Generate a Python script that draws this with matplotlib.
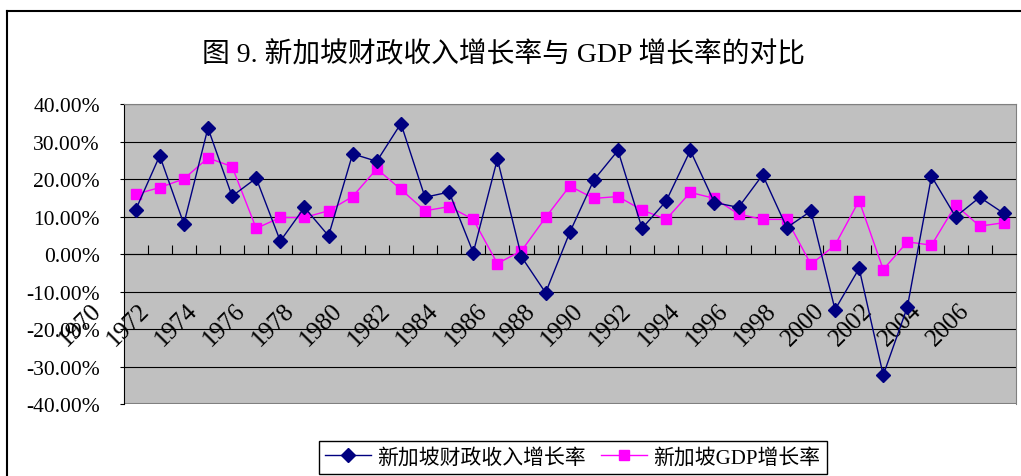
import matplotlib.pyplot as plt
import matplotlib.transforms as mtransforms
from matplotlib.lines import Line2D
from matplotlib.ticker import FuncFormatter, MultipleLocator, FixedLocator

plt.rcParams['font.family'] = ['Liberation Serif', 'Noto Sans CJK SC', 'DejaVu Sans']
plt.rcParams['axes.unicode_minus'] = False

years = list(range(1970, 2007))
# growth rates in percent
revenue_growth = [11.8, 26.3, 8.1, 33.7, 15.5, 20.3, 3.5, 12.5, 4.9, 26.8,
                  24.8, 34.9, 15.2, 16.6, 0.4, 25.4, -0.7, -10.3, 5.8, 19.8,
                  27.7, 6.9, 14.2, 27.7, 13.8, 12.5, 21.2, 7.1, 11.5, -14.8,
                  -3.8, -32.3, -14.1, 20.8, 10.0, 15.2, 10.9]
gdp_growth = [16.0, 17.8, 20.1, 25.7, 23.4, 6.9, 9.8, 9.8, 11.6, 15.4,
              22.8, 17.3, 11.6, 12.7, 9.3, -2.5, 0.9, 9.8, 18.2, 14.9,
              15.4, 11.8, 9.3, 16.5, 14.9, 10.7, 9.3, 9.3, -2.7, 2.4,
              14.3, -4.1, 3.3, 2.4, 13.1, 7.5, 8.4]
label_years = years[::2]

title = '图 9. 新加坡财政收入增长率与 GDP 增长率的对比'
name_revenue = '新加坡财政收入增长率'
name_gdp = '新加坡GDP增长率'

fig = plt.figure(figsize=(10.21, 4.77), dpi=100)
ax = fig.add_axes([0.121, 0.151, 0.874, 0.628])
ax.set_facecolor('#C0C0C0')

x = list(range(len(years)))
ax.plot(x, revenue_growth, color='#000080', lw=1, marker='D', ms=7,
        label=name_revenue, zorder=4)
ax.plot(x, gdp_growth, color='#FF00FF', lw=1, marker='s', ms=6.5,
        label=name_gdp, zorder=3)

ax.set_xlim(-0.5, len(years) - 0.5)
ax.set_ylim(-40, 40)
ax.yaxis.set_major_locator(MultipleLocator(10))
ax.yaxis.set_major_formatter(FuncFormatter(lambda v, p: f'{v:.2f}%'))
ax.yaxis.grid(True, color='black', lw=0.8)
ax.set_axisbelow(True)
ax.tick_params(axis='y', direction='out', length=3, width=0.8, pad=14, labelsize=15.5)

# category axis crosses at 0, tick marks between categories
ax.spines['bottom'].set_position(('data', 0))
ax.spines['bottom'].set_color('black')
ax.xaxis.set_major_locator(FixedLocator([i - 0.5 for i in range(1, len(years))]))
ax.tick_params(axis='x', direction='in', length=6.5, width=0.8, labelbottom=False)
for s in ['top', 'right']:
    ax.spines[s].set_color('#808080')
ax.axhline(-40, color='#808080', lw=1.5)
ax.spines['left'].set_color('black')

# year labels, drawn below the axis like the original
trans = mtransforms.blended_transform_factory(ax.transData, ax.transData)
off = mtransforms.ScaledTranslation(-0.38, -0.52, fig.dpi_scale_trans)
for i, yr in enumerate(years):
    if yr in label_years:
        ax.text(i, 0, str(yr), transform=trans + off, rotation=45,
                rotation_mode='anchor', ha='right', va='center', fontsize=18,
                clip_on=False)

fig.text(0.493, 0.885, title, ha='center', va='center', fontsize=20)

fig.legend(loc='lower center', bbox_to_anchor=(0.561, 0.0), ncol=2, fontsize=15,
           frameon=True, fancybox=False, edgecolor='black', framealpha=1,
           handlelength=2.2, handletextpad=0.3, columnspacing=0.75,
           borderpad=0.3, borderaxespad=0.1)

# outer chart border (left and top)
fig.add_artist(Line2D([7 / 1021, 7 / 1021], [0, 1 - 12 / 477], color='black', lw=1.5,
                      transform=fig.transFigure))
fig.add_artist(Line2D([7 / 1021, 1], [1 - 12 / 477, 1 - 12 / 477], color='black', lw=1.5,
                      transform=fig.transFigure))

fig.savefig('out.png', dpi=100)
